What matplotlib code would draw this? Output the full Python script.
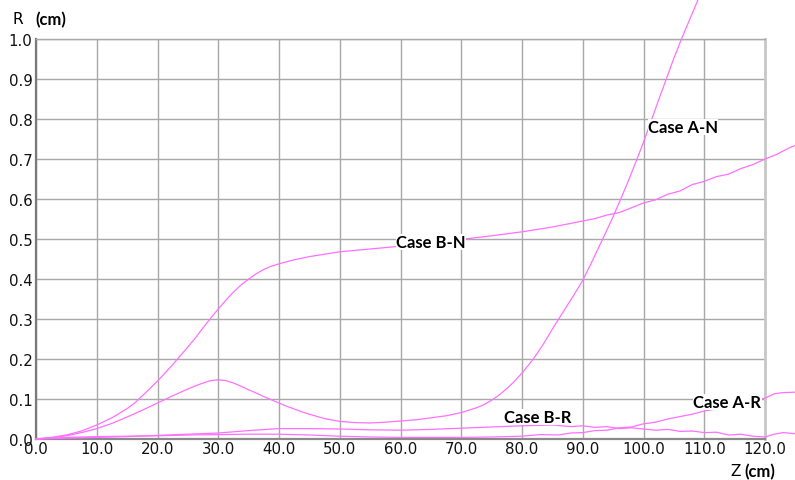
"""
R(Z) profiles for the four cases, redrawn from the reference picture.
"""
import matplotlib
matplotlib.use("Agg")
import matplotlib.pyplot as plt
from matplotlib.ticker import MultipleLocator

# Case A-N
Z_AN = [0, 2.5, 5, 7.5, 10, 12.5, 15, 17.5, 20, 22.5, 25, 26.25, 27.5, 28.75,
        30, 31.25, 32.5, 33.75, 35, 36.25, 37.5, 38.75, 40, 41.25, 42.5,
        43.75, 45, 47.5, 50, 52.5, 55, 57.5, 60, 62.5, 65, 67.5, 70, 72.5,
        73.75, 75, 76.25, 77.5, 78.75, 80, 81.25, 82.5, 83.75, 85, 86.25,
        87.5, 88.75, 90, 91.25, 92.5, 93.75, 95, 96.25, 97.5, 98.75, 100,
        101.25, 102.5, 103.75, 105, 106.25, 107.5, 108.75, 110]
R_AN = [0, 0.003, 0.008, 0.016, 0.026, 0.039, 0.055, 0.072, 0.09, 0.108,
        0.125, 0.133, 0.14, 0.146, 0.148, 0.146, 0.14, 0.132, 0.123, 0.115,
        0.106, 0.098, 0.09, 0.082, 0.075, 0.068, 0.062, 0.051, 0.044, 0.041,
        0.04, 0.042, 0.045, 0.048, 0.053, 0.058, 0.066, 0.078, 0.086, 0.097,
        0.11, 0.126, 0.144, 0.165, 0.188, 0.214, 0.243, 0.275, 0.305, 0.335,
        0.365, 0.397, 0.435, 0.475, 0.515, 0.556, 0.6, 0.645, 0.693, 0.742,
        0.795, 0.848, 0.9, 0.952, 1.0, 1.045, 1.09, 1.135]

# Case B-N
Z_BN = [0, 2.5, 5, 7.5, 10, 12.5, 15, 16.25, 17.5, 18.75, 20, 21.25, 22.5,
        23.75, 25, 26.25, 27.5, 28.75, 30, 31.25, 32.5, 33.75, 35, 36.25,
        37.5, 38.75, 40, 41.25, 42.5, 43.75, 45, 47.5, 50, 55, 60, 65, 70, 75,
        80, 85, 90, 92, 94, 96, 98, 100, 102, 104, 106, 108, 110, 112, 114,
        116, 118, 120, 122, 124, 125]
R_BN = [0, 0.004, 0.01, 0.02, 0.035, 0.053, 0.076, 0.09, 0.108, 0.126, 0.145,
        0.165, 0.186, 0.208, 0.23, 0.253, 0.278, 0.302, 0.325, 0.347, 0.367,
        0.385, 0.4, 0.413, 0.424, 0.432, 0.438, 0.443, 0.448, 0.452, 0.456,
        0.462, 0.468, 0.475, 0.482, 0.49, 0.499, 0.508, 0.518, 0.53, 0.545,
        0.551, 0.56, 0.566, 0.578, 0.59, 0.598, 0.612, 0.62, 0.636, 0.644,
        0.656, 0.662, 0.676, 0.686, 0.7, 0.712, 0.728, 0.734]

# Case B-R
Z_BR = [0, 5, 10, 15, 20, 25, 30, 35, 40, 45, 50, 55, 60, 65, 70, 75, 80, 85,
        88, 90, 92, 94, 96, 98, 100, 102, 104, 106, 108, 110, 112, 114, 116,
        118, 120, 121.5, 123, 125]
R_BR = [0, 0.002, 0.004, 0.006, 0.009, 0.012, 0.015, 0.021, 0.026, 0.026,
        0.025, 0.023, 0.022, 0.024, 0.027, 0.03, 0.033, 0.035, 0.031, 0.033,
        0.029, 0.031, 0.026, 0.028, 0.025, 0.022, 0.024, 0.019, 0.02, 0.016,
        0.017, 0.01, 0.012, 0.007, 0.005, 0.012, 0.016, 0.013]

# Case A-R
Z_AR = [0, 5, 10, 15, 20, 25, 30, 35, 40, 45, 50, 55, 60, 65, 70, 75, 80, 83,
        86, 88, 90, 92, 94, 96, 98, 100, 102, 104, 106, 108, 110, 112, 114,
        116, 118, 120, 121.5, 123, 125]
R_AR = [0, 0.004, 0.006, 0.007, 0.008, 0.01, 0.011, 0.012, 0.012, 0.01,
        0.007, 0.005, 0.004, 0.004, 0.004, 0.005, 0.007, 0.011, 0.01, 0.015,
        0.016, 0.021, 0.022, 0.028, 0.03, 0.038, 0.042, 0.05, 0.056, 0.062,
        0.07, 0.075, 0.083, 0.088, 0.095, 0.102, 0.113, 0.116, 0.117]

LABELS = ["Case A-N", "Case B-N", "Case B-R", "Case A-R"]
LABEL_POS = [(106.5, 0.78), (65.0, 0.4925), (82.5, 0.055), (113.8, 0.0925)]

LINE_COLOR = "#ff70ff"
GRID_COLOR = "#a8a8a8"


def main() -> None:
    fig = plt.figure(figsize=(7.95, 4.81), dpi=100)
    ax = fig.add_axes([36 / 795, 41 / 481, 729 / 795, 400 / 481])

    for z, r in [(Z_AN, R_AN), (Z_BN, R_BN), (Z_BR, R_BR), (Z_AR, R_AR)]:
        ax.plot(z, r, color=LINE_COLOR, lw=0.9, clip_on=False, zorder=3)

    ax.set_xlim(0, 120)
    ax.set_ylim(0, 1.0)
    ax.xaxis.set_major_locator(MultipleLocator(10))
    ax.yaxis.set_major_locator(MultipleLocator(0.1))
    ax.xaxis.set_major_formatter(lambda v, p: f"{v:.1f}")
    ax.yaxis.set_major_formatter(lambda v, p: f"{v:.1f}")
    ax.tick_params(length=0, labelsize=10.8, labelcolor="#111111")
    ax.tick_params(axis="x", pad=1.5)
    ax.tick_params(axis="y", pad=2.5)
    ax.grid(True, color=GRID_COLOR, lw=1.0)
    ax.set_axisbelow(True)

    ax.spines["left"].set_color("#7a7a7a")
    ax.spines["left"].set_linewidth(1.6)
    ax.spines["bottom"].set_color("#8a8a8a")
    ax.spines["bottom"].set_linewidth(1.6)
    ax.spines["right"].set_color("#c8c8c8")
    ax.spines["right"].set_linewidth(2.0)
    ax.spines["top"].set_color(GRID_COLOR)
    ax.spines["top"].set_linewidth(1.0)

    for text, (x, y) in zip(LABELS, LABEL_POS):
        ax.text(x, y, text, family="Lato", weight="bold", fontsize=12,
                ha="center", va="center", zorder=4, clip_on=False,
                bbox=dict(facecolor="white", edgecolor="none", pad=0.3))

    # axis titles
    fig.text(13 / 795, 1 - 20 / 481, "R", fontsize=11, va="center")
    fig.text(35 / 795, 1 - 20 / 481, "(cm)", family="Lato", weight="bold",
             fontsize=12, va="center")
    fig.text(730 / 795, 1 - 472 / 481, "Z", fontsize=11, va="center")
    fig.text(744 / 795, 1 - 472 / 481, "(cm)", family="Lato", weight="bold",
             fontsize=12, va="center")

    fig.savefig("out.png", dpi=100)


if __name__ == "__main__":
    main()
